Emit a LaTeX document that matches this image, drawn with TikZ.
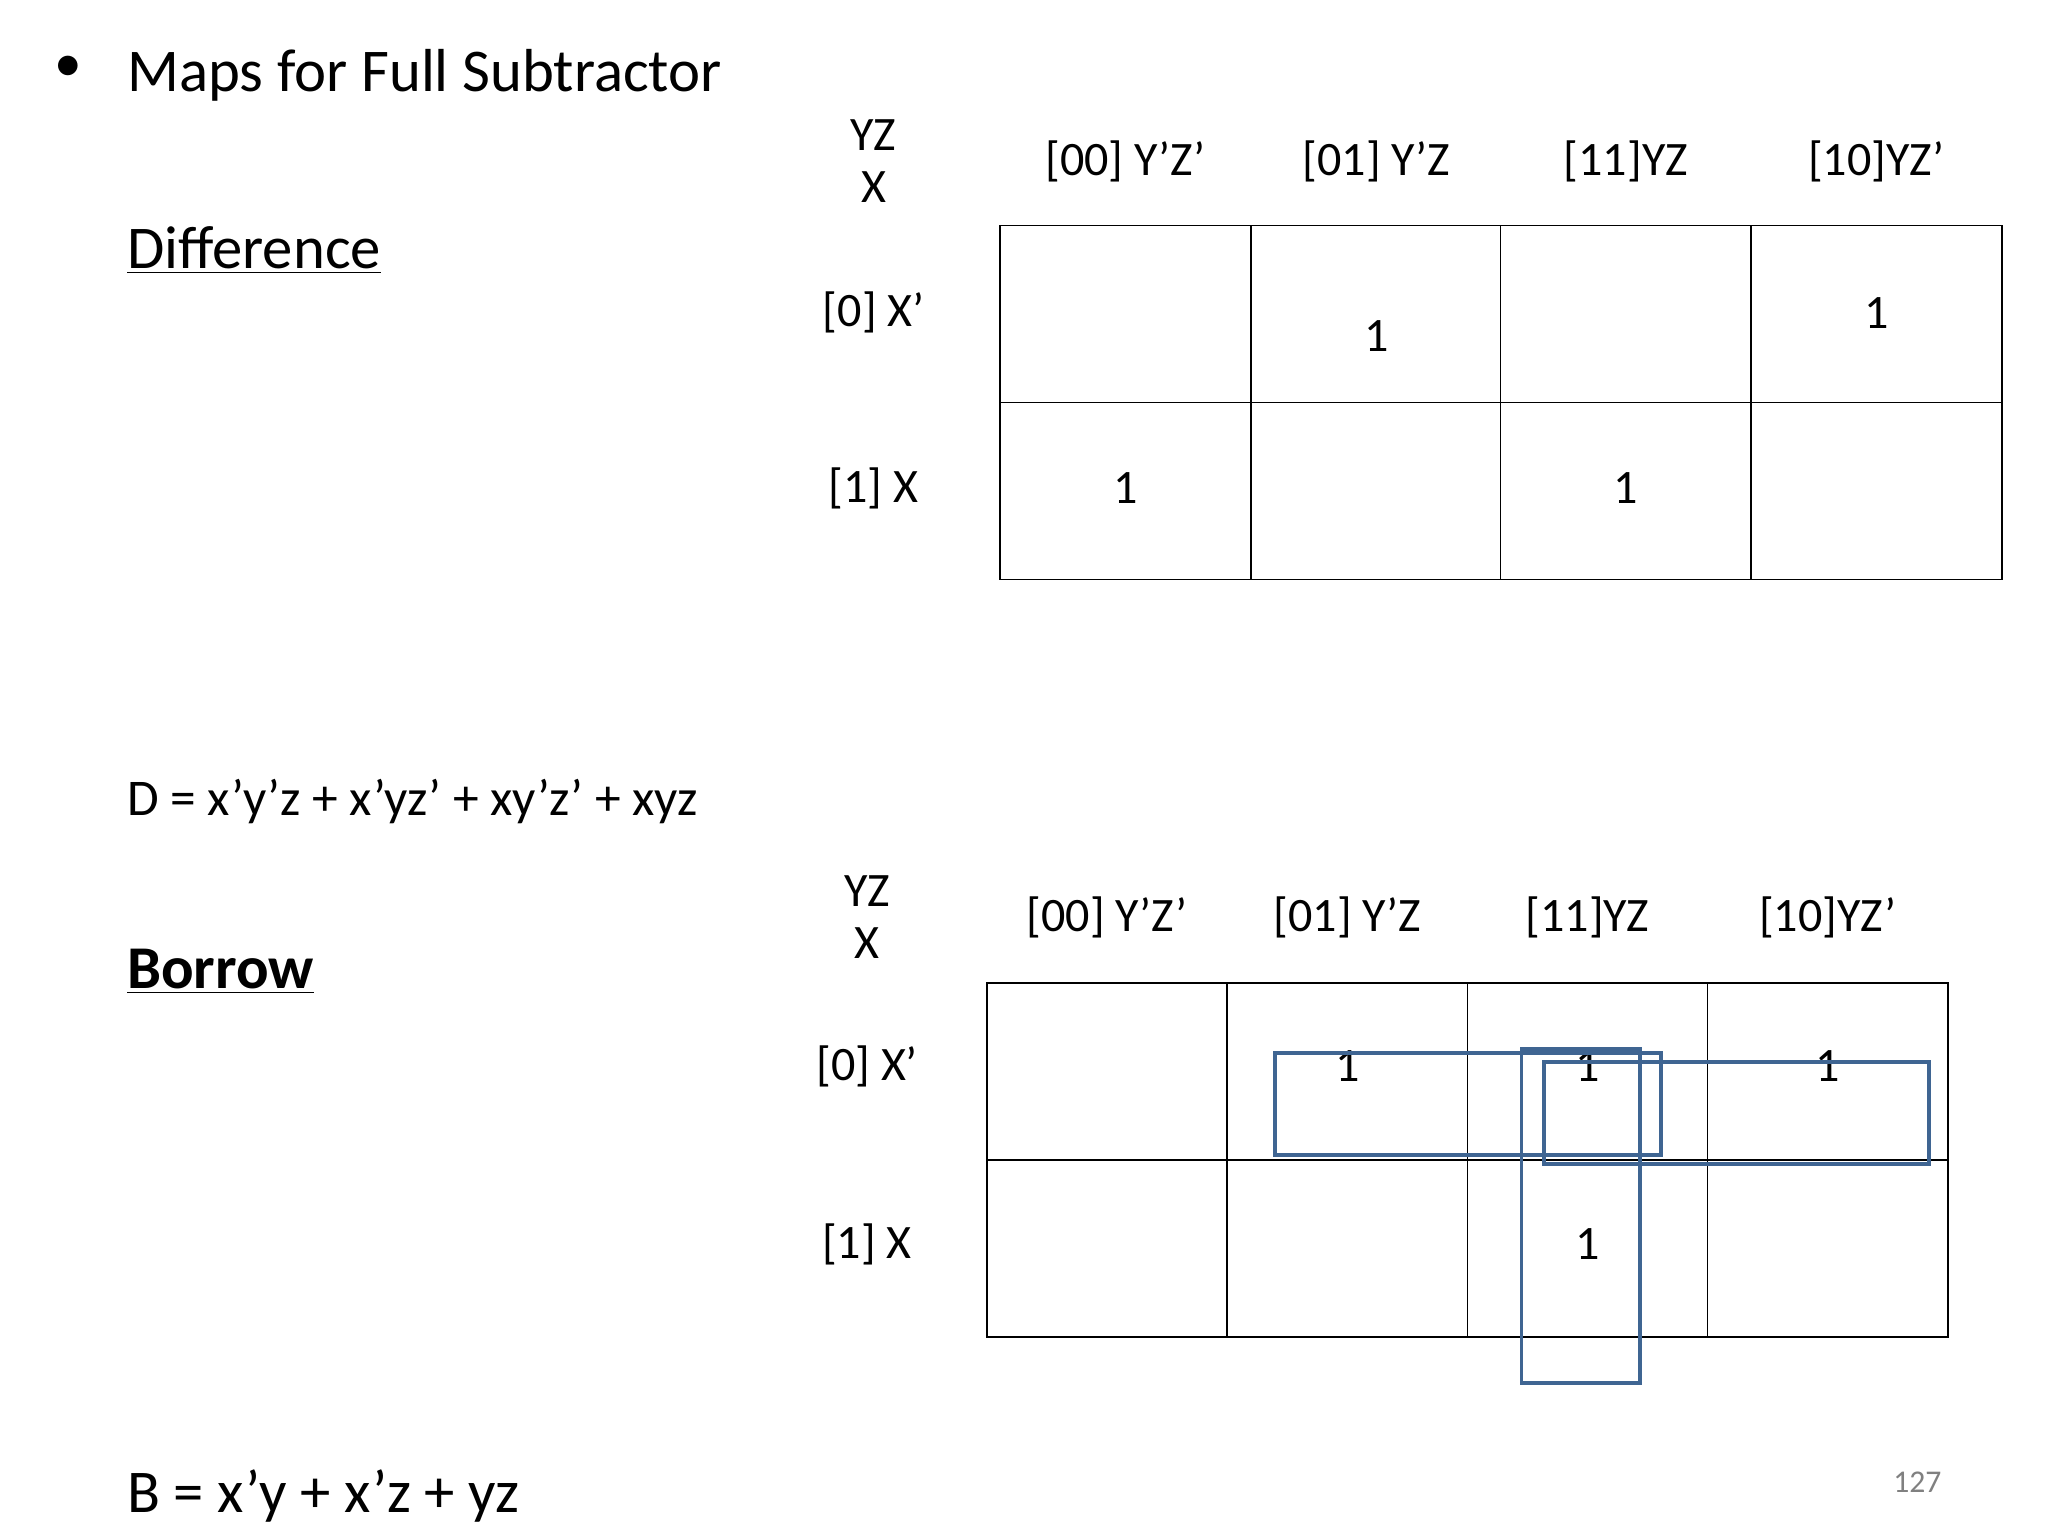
\documentclass[tikz,border=0pt]{standalone}
\usepackage{fontspec}
\setmainfont{Carlito}
\definecolor{grp}{HTML}{3F6592}
\newcommand{\myul}[1]{\underline{#1}}
\begin{document}
\begin{tikzpicture}[x=0.5pt,y=-0.5pt,
  big/.style={font=\fontsize{23}{27}\selectfont,anchor=west,inner sep=0},
  lab/.style={font=\fontsize{18.2}{21}\selectfont,inner sep=0},
  grid/.style={line width=0.6pt},
  grpbox/.style={draw=grp,line width=1.5pt}]
\useasboundingbox (0,0) rectangle (1552,1164);
\node[font=\fontsize{21}{25}\selectfont,inner sep=0] (bul) at (52,52) {•};
\node[big] (title) at (96,57) {Maps for Full Subtractor};
\node[big] (diff) at (96,190) {\myul{Difference}};
\node[big,font=\fontsize{19.5}{22}\selectfont] (deq) at (96,607) {D = x’y’z + x’yz’ + xy’z’ + xyz};
\node[big] (bor) at (96,736) {\myul{\textbf{Borrow}}};
\node[big] (beq) at (96,1134) {B = x’y + x’z + yz};
\node[font=\fontsize{12}{14}\selectfont,text=gray] (pg) at (1453,1123) {127};
% top map
\draw[grid] (758,171) rectangle (1517,439);
\foreach \x in {948,1137,1327} \draw[grid] (\x,171) -- (\x,439);
\draw[grid] (758,305) -- (1517,305);
\node[lab] (t1) at (662,102) {YZ};
\node[lab] (t2) at (662,142) {X};
\node[lab] (th1) at (853,122) {[00] Y’Z’};
\node[lab] (th2) at (1043,122) {[01] Y’Z};
\node[lab] (th3) at (1232,122) {[11]YZ};
\node[lab] (th4) at (1422,122) {[10]YZ’};
\node[lab] (tr1) at (662,237) {[0] X’};
\node[lab] (tr2) at (662,370) {[1] X};
\node[lab] (ta) at (1043,255) {1};
\node[lab] (tb) at (1422,237) {1};
\node[lab] (tc) at (853,370) {1};
\node[lab] (td) at (1232,370) {1};
% bottom map
\draw[grid] (748,745) rectangle (1476,1013);
\foreach \x in {930,1112,1294} \draw[grid] (\x,745) -- (\x,1013);
\draw[grid] (748,879) -- (1476,879);
\node[lab] (b1) at (657,675) {YZ};
\node[lab] (b2) at (657,715) {X};
\node[lab] (bh1) at (839,695) {[00] Y’Z’};
\node[lab] (bh2) at (1021,695) {[01] Y’Z};
\node[lab] (bh3) at (1203,695) {[11]YZ};
\node[lab] (bh4) at (1385,695) {[10]YZ’};
\node[lab] (br1) at (657,808) {[0] X’};
\node[lab] (br2) at (657,943) {[1] X};
\node[lab] (ba) at (1021,808) {1};
\node[lab] (bb) at (1203,808) {1};
\node[lab] (bc) at (1385,808) {1};
\node[lab] (bd) at (1203,943) {1};
\draw[grpbox] (966,798) rectangle (1259,875);
\draw[grpbox] (1153,795) rectangle (1243,1048);
\draw[grpbox] (1170,805) rectangle (1462,882);
\end{tikzpicture}
\end{document}
